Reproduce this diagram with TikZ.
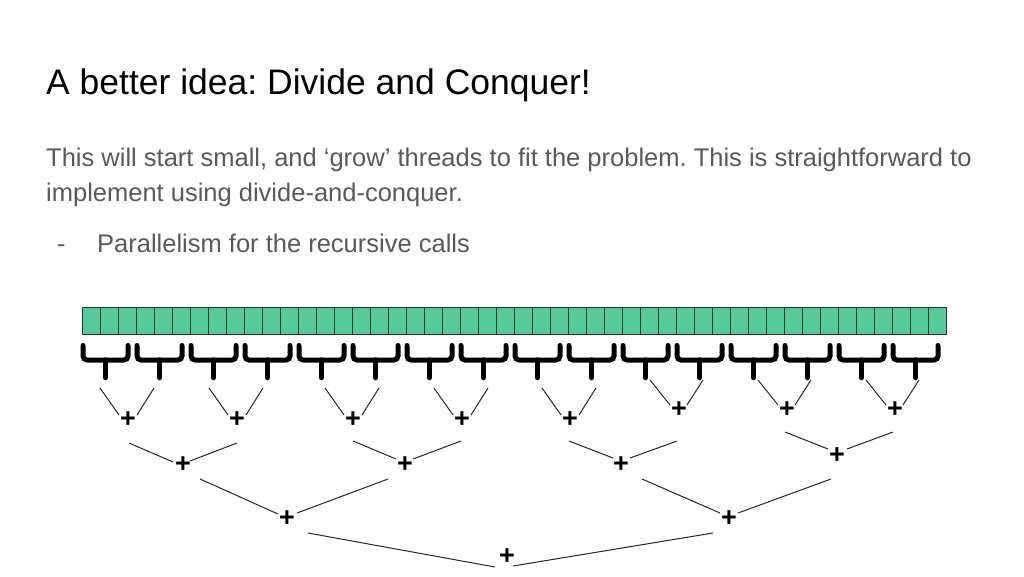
\documentclass[tikz,border=0pt]{standalone}
\usepackage{fontspec}
\setmainfont{Liberation Sans}
\usetikzlibrary{calc}
\definecolor{cellfill}{HTML}{57C99A}
\definecolor{cellline}{HTML}{1E3A2C}
\definecolor{bodygray}{HTML}{595959}
\begin{document}
\frenchspacing
\begin{tikzpicture}[x=1pt,y=-1pt,
  plus/.style={font=\fontsize{27}{27}\selectfont\bfseries, inner sep=0pt},
  link/.style={line width=1pt, black!85},
  bracearm/.style={line width=5pt, rounded corners=4pt, line cap=round},
  bracestem/.style={line width=5.5pt, line cap=round},
  cell/.style={fill=cellfill, draw=cellline, line width=1pt},
  body/.style={anchor=base west, inner sep=0pt, text=bodygray, font=\fontsize{25.5}{34}\selectfont}]
\useasboundingbox (0,0) rectangle (1024,576);
\fill[white] (0,0) rectangle (1024,576);
% texts
\node[anchor=base west, inner sep=0pt, font=\fontsize{35.5}{42}\selectfont] (title) at (46,94) {A better idea: Divide and Conquer!};
\node[body] (l1) at (46,166.5) {This will start small, and ‘grow’ threads to fit the problem. This is straightforward to};
\node[body] (l2) at (46,201) {implement using divide-and-conquer.};
\node[body] (dash) at (57,252) {-};
\node[body] (bul) at (97,252) {Parallelism for the recursive calls};
% array
\foreach \k in {0,...,47} {
  \draw[cell] ({82+18*\k},307) rectangle ({100+18*\k},334);
}
% braces
\foreach \i in {0,...,15} {
  \pgfmathsetmacro\xl{83+54*\i}
  \pgfmathsetmacro\xr{128+54*\i}
  \pgfmathsetmacro\xs{105.5+54*\i}
  \draw[bracearm] (\xl,345.5) -- (\xl,360) -- (\xr,360) -- (\xr,345.5);
  \draw[bracestem] (\xs,360) -- (\xs,377.5);
}
% plus nodes
\node[plus] (a0) at (128,420) {+};
\node[plus] (a1) at (237,420) {+};
\node[plus] (a2) at (353,420) {+};
\node[plus] (a3) at (462,420) {+};
\node[plus] (a4) at (570,420) {+};
\node[plus] (a5) at (679,410) {+};
\node[plus] (a6) at (787,410) {+};
\node[plus] (a7) at (895,410) {+};
\node[plus] (b0) at (183,465) {+};
\node[plus] (b1) at (405,465) {+};
\node[plus] (b2) at (621,465) {+};
\node[plus] (b3) at (837,456) {+};
\node[plus] (c0) at (287,519) {+};
\node[plus] (c1) at (729,519) {+};
\node[plus] (d) at (507,557) {+};
% level 1 links
\foreach \n in {a0,a1,a2,a3,a4} {
  \draw[link] ($(\n)+(-28,-32)$) -- ($(\n)+(-9,-5)$);
  \draw[link] ($(\n)+(26,-32)$) -- ($(\n)+(9,-5)$);
}
\foreach \n in {a5,a6,a7} {
  \draw[link] ($(\n)+(-29,-30)$) -- ($(\n)+(-9,-5)$);
  \draw[link] ($(\n)+(24,-30)$) -- ($(\n)+(8,-5)$);
}
% level 2 links
\draw[link] ($(a0)+(1,23)$) -- ($(b0)+(-10,-3)$);
\draw[link] ($(a1)+(0,23)$) -- ($(b0)+(7,-4)$);
\draw[link] ($(a2)+(0,21)$) -- ($(b1)+(-9,-6)$);
\draw[link] ($(a3)+(-1,21)$) -- ($(b1)+(8,-6)$);
\draw[link] ($(a4)+(-1,21)$) -- ($(b2)+(-8,-7)$);
\draw[link] ($(a5)+(-2,31)$) -- ($(b2)+(9,-7)$);
\draw[link] ($(a6)+(-2,22)$) -- ($(b3)+(-9,-7)$);
\draw[link] ($(a7)+(-2,22)$) -- ($(b3)+(10,-7)$);
% level 3 links
\draw[link] ($(b0)+(17,14)$) -- ($(c0)+(-9,-5)$);
\draw[link] ($(b1)+(-17,14)$) -- ($(c0)+(10,-6)$);
\draw[link] ($(b2)+(21,14)$) -- ($(c1)+(-9,-6)$);
\draw[link] ($(b3)+(-6,23)$) -- ($(c1)+(9,-6)$);
% level 4 links
\draw[link] ($(c0)+(21,14)$) -- ($(d)+(-12,10)$);
\draw[link] ($(c1)+(-16,14)$) -- ($(d)+(6,9)$);
\end{tikzpicture}
\end{document}
